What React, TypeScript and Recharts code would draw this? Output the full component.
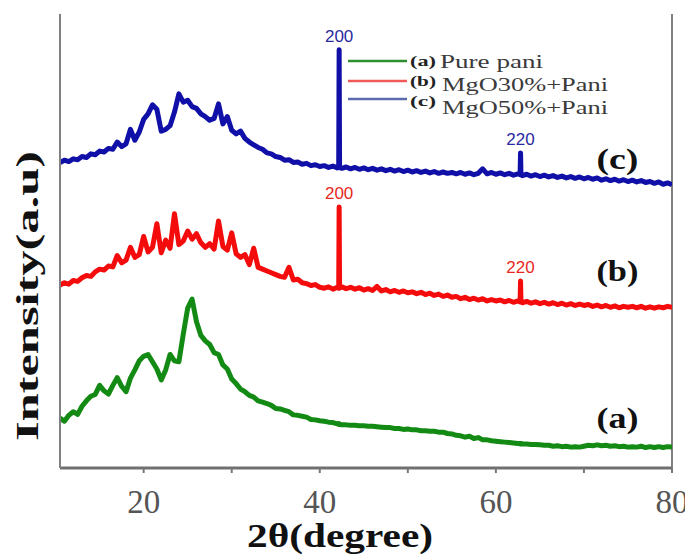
import React from 'react';
import { LineChart, Line, XAxis, YAxis, ReferenceDot, ReferenceLine, Legend } from 'recharts';

// 2θ positions (degrees)
const twoTheta = [
  10.5, 11, 11.5, 12, 12.5, 13, 13.5, 14, 14.5, 15,
  15.5, 16, 16.5, 17, 17.5, 18, 18.5, 19, 19.5, 20,
  20.5, 21, 21.5, 22, 22.5, 23, 23.5, 24, 24.5, 25,
  25.5, 26, 26.5, 27, 27.5, 28, 28.5, 29, 29.5, 30,
  30.5, 31, 31.5, 32, 32.5, 33, 33.5, 34, 34.5, 35,
  35.5, 36, 36.5, 37, 37.5, 38, 38.5, 39, 39.5, 40,
  40.5, 41, 41.5, 42, 42.15, 42.2, 42.25, 42.5, 43, 43.5, 44, 44.5, 45,
  45.5, 46, 46.5, 47, 47.5, 48, 48.5, 49, 49.5, 50,
  50.5, 51, 51.5, 52, 52.5, 53, 53.5, 54, 54.5, 55,
  55.5, 56, 56.5, 57, 57.5, 58, 58.5, 59, 59.5, 60,
  60.5, 61, 61.5, 62, 62.5, 62.75, 62.8, 62.85, 63, 63.5, 64, 64.5, 65,
  65.5, 66, 66.5, 67, 67.5, 68, 68.5, 69, 69.5, 70,
  70.5, 71, 71.5, 72, 72.5, 73, 73.5, 74, 74.5, 75,
  75.5, 76, 76.5, 77, 77.5, 78, 78.5, 79, 79.5, 80,
];

// (a) Pure pani
const purePani = [
  11.0, 10.3, 11.6, 12.4, 11.8, 13.6, 14.8, 15.8, 16.2, 18.2,
  17.0, 16.3, 18.2, 19.9, 18.0, 16.8, 19.8, 21.6, 23.6, 24.6,
  25.0, 23.4, 21.8, 19.4, 21.6, 25.0, 23.6, 23.4, 29.5, 35.2,
  37.2, 32.2, 29.2, 28.0, 27.2, 25.4, 25.0, 22.7, 21.8, 19.6,
  18.6, 17.4, 16.8, 16.0, 15.6, 14.8, 14.5, 14.2, 13.8, 13.1,
  13.0, 12.7, 12.4, 11.7, 11.6, 11.4, 11.2, 10.7, 10.6, 10.4,
  10.3, 10.1, 10.0, 9.7, 9.8, 9.6, 9.7, 9.5, 9.5, 9.4, 9.4, 9.3, 9.3,
  9.2, 9.2, 9.1, 9.0, 8.9, 8.9, 8.7, 8.7, 8.5, 8.6,
  8.4, 8.4, 8.2, 8.2, 8.1, 8.1, 7.9, 7.9, 7.6, 7.5,
  7.2, 7.1, 6.8, 7.0, 6.5, 6.7, 6.2, 6.2, 6.0, 5.9,
  5.8, 5.7, 5.6, 5.5, 5.4, 5.4, 5.3, 5.4, 5.3, 5.3, 5.2, 5.2, 5.1,
  5.0, 5.0, 4.8, 4.9, 4.7, 4.8, 4.6, 4.7, 4.6, 4.8,
  5.0, 4.9, 5.1, 4.9, 5.0, 4.8, 4.9, 4.7, 4.8, 4.6,
  4.7, 4.6, 4.8, 4.5, 4.7, 4.5, 4.7, 4.5, 4.7, 4.6,
];

// (b) MgO30%+Pani
const mgo30Pani = [
  40.3, 40.8, 40.5, 41.3, 41.1, 41.9, 42.4, 42.2, 43.2, 43.8,
  43.6, 44.5, 44.3, 46.8, 45.2, 45.8, 48.6, 46.4, 47.0, 51.0,
  47.6, 48.6, 53.8, 47.4, 50.2, 48.4, 56.0, 49.2, 50.0, 52.2,
  50.4, 51.6, 49.6, 48.6, 49.4, 48.2, 54.4, 48.8, 48.0, 51.8,
  47.2, 46.4, 47.0, 44.8, 48.4, 44.2, 43.8, 43.4, 43.0, 42.6,
  42.2, 42.0, 44.2, 41.4, 41.6, 40.8, 40.6, 40.2, 40.4, 39.8,
  39.6, 39.9, 39.4, 39.8, 39.6, 57.5, 39.6, 39.9, 39.5, 39.8, 39.4, 39.7, 39.2,
  39.5, 39.1, 40.0, 39.0, 39.3, 38.8, 39.1, 38.7, 39.0, 38.6,
  38.8, 38.4, 38.7, 38.2, 38.5, 38.0, 38.3, 37.8, 38.1, 37.6,
  37.8, 37.3, 37.6, 37.1, 37.4, 37.0, 37.3, 36.8, 37.1, 36.8,
  37.0, 36.6, 36.9, 36.5, 36.8, 36.6, 41.2, 36.6, 36.4, 36.7, 36.3, 36.6, 36.2,
  36.5, 36.1, 36.4, 36.0, 36.3, 35.9, 36.2, 35.8, 36.1, 35.8,
  36.0, 35.6, 35.9, 35.5, 35.8, 35.4, 35.7, 35.3, 35.6, 35.4,
  35.6, 35.3, 35.6, 35.2, 35.5, 35.2, 35.5, 35.3, 35.6, 35.4,
];

// (c) MgO50%+Pani
const mgo50Pani = [
  67.3, 67.8, 67.5, 68.1, 67.9, 68.6, 68.4, 69.2, 69.0, 69.8,
  69.6, 70.4, 70.2, 71.8, 70.8, 71.4, 74.6, 72.2, 74.0, 76.8,
  78.0, 80.0, 79.0, 74.2, 74.6, 75.4, 78.4, 82.4, 80.6, 81.0,
  79.6, 79.2, 78.0, 77.4, 76.6, 77.0, 80.2, 75.8, 77.4, 74.4,
  73.6, 74.2, 72.6, 71.8, 71.2, 70.6, 70.2, 69.4, 69.2, 68.6,
  68.4, 67.8, 67.9, 67.3, 67.4, 66.9, 67.1, 66.6, 66.8, 66.4,
  66.6, 66.2, 66.5, 66.1, 66.3, 92.1, 66.2, 66.0, 66.3, 65.9, 66.2, 65.8, 66.1,
  65.7, 66.0, 65.6, 65.9, 65.5, 65.8, 65.4, 65.7, 65.3, 65.6,
  65.2, 65.5, 65.1, 65.4, 65.0, 65.3, 64.9, 65.2, 64.9, 65.1,
  64.8, 65.1, 64.7, 65.0, 64.6, 64.9, 65.9, 64.8, 65.1, 64.7,
  65.0, 64.6, 64.9, 64.5, 64.8, 64.6, 69.4, 64.6, 64.4, 64.7, 64.3, 64.6, 64.2,
  64.5, 64.1, 64.4, 64.0, 64.3, 63.9, 64.2, 63.8, 64.1, 63.7,
  64.0, 63.6, 63.9, 63.4, 63.7, 63.3, 63.6, 63.2, 63.5, 63.1,
  63.4, 63.0, 63.3, 62.9, 63.1, 62.7, 63.0, 62.5, 62.8, 62.4,
];

const seriesKeys = ['a', 'b', 'c'];
const seriesTags = ['(a)', '(b)', '(c)'];
const seriesNames = ['Pure pani', 'MgO30%+Pani', 'MgO50%+Pani'];
const seriesColors = ['#138a13', '#f40c0c', '#1010a8'];
const legendColors = ['#2f8f2f', '#f25a5a', '#5b6bb0'];

const xTicks = [20, 30, 40, 50, 60, 70, 80];
const xTickLabels = ['20', '', '40', '', '60', '', '80'];
const xDomain = [10.5, 80];
const yDomain = [0, 100];

// Miller-index annotations
const peakTheta = [42.2, 62.8, 42.2, 62.8];
const peakText = ['200', '220', '200', '220'];
const peakSeries = ['c', 'c', 'b', 'b'];
const peakColors = ['#2a2a9e', '#2a2a9e', '#e8281e', '#e8281e'];

// Curve tags near the right end (2θ, intensity)
const tagTheta = [73.8, 73.8, 73.8];
const tagLevel = [10.8, 43.2, 67.8];

const data = twoTheta.map((t, i) => ({ t, a: purePani[i], b: mgo30Pani[i], c: mgo50Pani[i] }));
const seriesArrays: Record<string, number[]> = { a: purePani, b: mgo30Pani, c: mgo50Pani };

const SERIF = "'Liberation Serif', 'Times New Roman', serif";
const SANS = "'Liberation Sans', Arial, sans-serif";
const FRAME = '#808080';

const XTitle = () => (
  <text x={332} y={539} textAnchor="middle" fontFamily={SERIF} fontWeight="bold" fontSize={34}
    textLength={186} lengthAdjust="spacingAndGlyphs" fill="#111">2θ(degree)</text>
);

const YTitle = () => (
  <text x={30} y={288} transform="rotate(-90 30 288)" textAnchor="middle" fontFamily={SERIF}
    fontWeight="bold" fontSize={32} textLength={290} lengthAdjust="spacingAndGlyphs" fill="#111">Intensity(a.u)</text>
);

const renderTick = (props: any) => {
  const { x, payload } = props;
  const i = xTicks.indexOf(payload.value);
  return (
    <text x={x} y={505} textAnchor="middle" fontFamily={SERIF} fontSize={33} fill="#555">{xTickLabels[i] || ''}</text>
  );
};

const PeakLabel = (props: any) => {
  const vb = props.viewBox || {};
  const cx = (vb.x || 0) + (vb.width || 0) / 2;
  const top = vb.y || 0;
  return (
    <text x={cx} y={top - 8} textAnchor="middle" fontFamily={SANS} fontSize={17} fill={props.color}>{props.text}</text>
  );
};

const TagLabel = (props: any) => {
  const vb = props.viewBox || {};
  const cx = (vb.x || 0) + (vb.width || 0) / 2;
  const cy = (vb.y || 0) + (vb.height || 0) / 2;
  return (
    <text x={cx} y={cy + 9} textAnchor="middle" fontFamily={SERIF} fontWeight="bold" fontSize={30}
      textLength={42} lengthAdjust="spacingAndGlyphs" fill="#111">{props.text}</text>
  );
};

const legendLineY = [9, 29, 47];
const legendTagY = [14, 34, 54];
const legendNameY = [16, 39, 62];
const legendNameX = [94, 96, 96];
const legendNameW = [103, 166, 166];

const LegendBox = () => (
  <svg width={290} height={80} style={{ display: 'block', overflow: 'visible' }}>
    {seriesKeys.map((k, i) => (
      <g key={k}>
        <line x1={2} x2={61} y1={legendLineY[i]} y2={legendLineY[i]} stroke={legendColors[i]} strokeWidth={2.5} />
        <text x={64} y={legendTagY[i]} fontFamily={SERIF} fontWeight="bold" fontSize={14} textLength={26}
          lengthAdjust="spacingAndGlyphs" fill="#222">{seriesTags[i]}</text>
        <text x={legendNameX[i]} y={legendNameY[i]} fontFamily={SERIF} fontSize={19} textLength={legendNameW[i]}
          lengthAdjust="spacingAndGlyphs" fill="#3a3a3a">{seriesNames[i]}</text>
      </g>
    ))}
  </svg>
);

export default function App() {
  return (
    <LineChart width={685} height={548} data={data} margin={{ top: 6, right: 21, bottom: 38, left: 0 }}>
      <XAxis dataKey="t" type="number" domain={xDomain} ticks={xTicks} interval={0} allowDataOverflow
        tick={renderTick} tickSize={5} tickLine={{ stroke: '#777', strokeWidth: 2 }}
        axisLine={{ stroke: '#707070', strokeWidth: 3 }} height={50} label={<XTitle />} />
      <XAxis xAxisId="top" orientation="top" dataKey="t" type="number" domain={xDomain} allowDataOverflow
        tick={false} tickLine={false} axisLine={{ stroke: FRAME, strokeWidth: 2 }} height={0} />
      <YAxis type="number" domain={yDomain} width={52} tick={false} tickLine={false}
        axisLine={{ stroke: FRAME, strokeWidth: 2 }} label={<YTitle />} />
      <ReferenceLine x={xDomain[1]} stroke={FRAME} strokeWidth={2} ifOverflow="visible" />
      <Legend layout="vertical" align="center" verticalAlign="middle" content={() => <LegendBox />}
        wrapperStyle={{ left: 338, top: 44, width: 290, height: 80 }} />
      {seriesKeys.map((k, i) => (
        <Line key={k} dataKey={k} name={seriesNames[i]} type="linear" stroke={seriesColors[i]} strokeWidth={5}
          strokeLinejoin="round" dot={false} activeDot={false} isAnimationActive={false} />
      ))}
      {peakTheta.map((t, i) => (
        <ReferenceDot key={'p' + i} x={t} y={seriesArrays[peakSeries[i]][twoTheta.indexOf(t)]} r={0}
          fill="none" stroke="none" label={<PeakLabel text={peakText[i]} color={peakColors[i]} />} />
      ))}
      {tagTheta.map((t, i) => (
        <ReferenceDot key={'t' + i} x={t} y={tagLevel[i]} r={0} fill="none" stroke="none"
          label={<TagLabel text={seriesTags[i]} />} />
      ))}
    </LineChart>
  );
}
